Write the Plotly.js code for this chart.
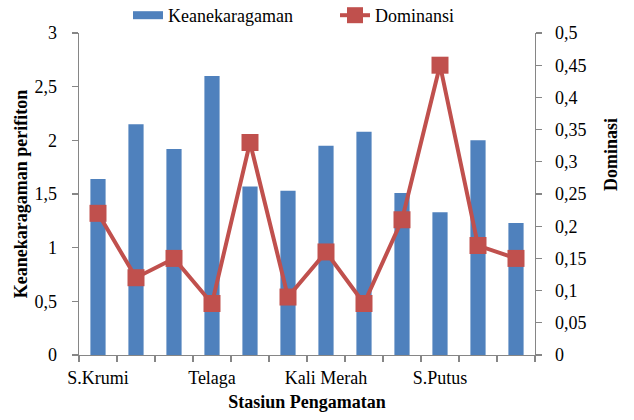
<!DOCTYPE html>
<html>
<head>
<meta charset="utf-8">
<script src="https://cdn.plot.ly/plotly-3.0.1.min.js"></script>
<style>html,body{margin:0;padding:0;background:#fff;}#chart{width:634px;height:420px;}</style>
</head>
<body>
<div id="chart"></div>
<script>
const categories = ["S.Krumi", "", "", "Telaga", "", "", "Kali Merah", "", "", "S.Putus", "", ""];
const keanekaragaman = [1.64, 2.15, 1.92, 2.60, 1.57, 1.53, 1.95, 2.08, 1.51, 1.33, 2.00, 1.23];
const dominansi = [0.22, 0.12, 0.15, 0.08, 0.33, 0.09, 0.16, 0.08, 0.21, 0.45, 0.17, 0.15];

const xpos = categories.map((_, i) => i);
const tickIdx = xpos.filter(i => categories[i] !== "");
const font = "'Liberation Serif', 'Times New Roman', serif";
const axisGray = "#868686";
const barColor = "#4F81BD";
const lineColor = "#C0504D";

const traces = [
  {
    type: "bar", name: "Keanekaragaman", x: xpos, y: keanekaragaman, width: 0.4,
    marker: {color: barColor}, yaxis: "y", showlegend: false, legendrank: 1
  },
  {
    /* legend-only swatch styled like the reference's wide bar key */
    type: "scatter", mode: "lines", name: "Keanekaragaman", x: [null], y: [null],
    line: {color: barColor, width: 8}, yaxis: "y", showlegend: true, hoverinfo: "skip", legendrank: 1
  },
  {
    type: "scatter", mode: "lines+markers", name: "Dominansi", x: xpos, y: dominansi,
    yaxis: "y2", line: {color: lineColor, width: 4},
    marker: {symbol: "square", size: 17, color: lineColor}, cliponaxis: false, legendrank: 2
  }
];

const layout = {
  width: 634, height: 420,
  margin: {l: 79, r: 99, t: 33, b: 65, autoexpand: false},
  paper_bgcolor: "#fff", plot_bgcolor: "#fff",
  separators: ",.",
  font: {family: font, size: 18, color: "#000"},
  showlegend: true,
  legend: {orientation: "h", x: 0.1075, xanchor: "left", y: 1.1118, yanchor: "top",
           entrywidth: 162, entrywidthmode: "pixels",
           font: {family: font, size: 18, color: "#000"}, bgcolor: "rgba(0,0,0,0)", traceorder: "normal"},
  xaxis: {
    range: [-0.5, 11.5], tickmode: "array", tickvals: tickIdx, ticktext: tickIdx.map(i => categories[i]),
    ticks: "", showline: true, linecolor: axisGray, linewidth: 1.3, showgrid: false, zeroline: false,
    tickfont: {family: font, size: 18, color: "#000"}, ticklabelstandoff: 6,
    minor: {tickmode: "linear", tick0: -0.5, dtick: 1, ticks: "outside", ticklen: 6, tickcolor: axisGray, tickwidth: 1.3, showgrid: false},
    title: {text: "<b>Stasiun Pengamatan</b>", font: {family: font, size: 18, color: "#000"}, standoff: 8}
  },
  yaxis: {
    range: [0, 3], dtick: 0.5, tick0: 0, showline: true, linecolor: axisGray, linewidth: 1.3,
    ticks: "outside", ticklen: 6, tickcolor: axisGray, tickwidth: 1.3, showgrid: false, zeroline: false,
    tickfont: {family: font, size: 18, color: "#000"}, ticklabelstandoff: 11,
    title: {text: "<b>Keanekaragaman perifiton</b>", font: {family: font, size: 18, color: "#000"}, standoff: 2}
  },
  yaxis2: {
    range: [0, 0.5], dtick: 0.05, tick0: 0, overlaying: "y", side: "right", showline: true,
    linecolor: axisGray, linewidth: 1.3, ticks: "outside", ticklen: 6, tickcolor: axisGray, tickwidth: 1.3,
    showgrid: false, zeroline: false, tickfont: {family: font, size: 18, color: "#000"}, ticklabelstandoff: 9
  },
  annotations: [
    {text: "<b>Dominasi</b>", xref: "paper", yref: "paper", x: 1.1667, y: 0.621, textangle: -90,
     showarrow: false, xanchor: "center", yanchor: "middle", font: {family: font, size: 18, color: "#000"}}
  ]
};

Plotly.newPlot("chart", traces, layout, {displayModeBar: false, staticPlot: true});
</script>
</body>
</html>
